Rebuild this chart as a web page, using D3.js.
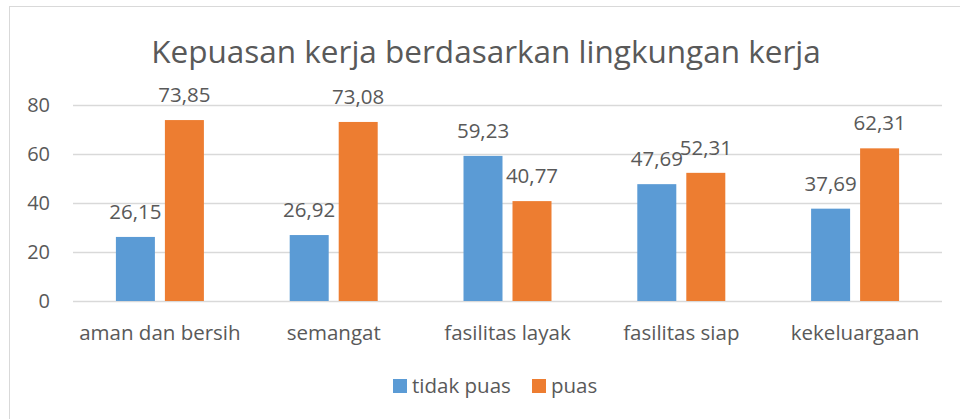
<!DOCTYPE html>
<html>
<head>
<meta charset="utf-8">
<script src="https://cdn.jsdelivr.net/npm/d3@7"></script>
<style>
  html, body { margin: 0; padding: 0; background: #fff; }
  svg { display: block; }
  text { font-family: "Open Sans", "Noto Sans", sans-serif; fill: #595959; }
</style>
</head>
<body>
<svg id="chart" width="960" height="419"></svg>
<script>
const title = "Kepuasan kerja berdasarkan lingkungan kerja";
const categories = ["aman dan bersih", "semangat", "fasilitas layak", "fasilitas siap", "kekeluargaan"];
const seriesNames = ["tidak puas", "puas"];
const tidakPuas = [26.15, 26.92, 59.23, 47.69, 37.69];
const puas = [73.85, 73.08, 40.77, 52.31, 62.31];
const yTicks = [0, 20, 40, 60, 80];
const colors = ["#5B9BD5", "#ED7D31"];

const svg = d3.select("#chart");
const plot = { left: 73, right: 942, top: 105, bottom: 301 };

// chart border
svg.append("rect").attr("x", 9.5).attr("y", 6.5).attr("width", 1000).attr("height", 1000)
  .attr("fill", "none").attr("stroke", "#D9D9D9").attr("stroke-width", 1);

const x = d3.scaleBand().domain(categories).range([plot.left, plot.right]).paddingInner(0).paddingOuter(0);
const y = d3.scaleLinear().domain([0, 80]).range([plot.bottom, plot.top]);
const barW = 39, gap = 10;

// gridlines
svg.append("g").selectAll("line").data(yTicks).join("line")
  .attr("x1", plot.left).attr("x2", plot.right)
  .attr("y1", d => Math.round(y(d)) + 0.5).attr("y2", d => Math.round(y(d)) + 0.5)
  .attr("stroke", "#D9D9D9").attr("stroke-width", 1.5);

// y axis labels
const yAxis = d3.axisLeft(y).tickValues(yTicks).tickSize(0).tickPadding(0);
const yg = svg.append("g").attr("transform", `translate(50,0)`).call(yAxis);
yg.select(".domain").remove();
yg.selectAll("text").attr("font-size", 20).attr("fill", "#595959").style("font-family", "'Open Sans'");

// x axis labels
const xAxis = d3.axisBottom(x).tickSize(0).tickPadding(0);
const xg = svg.append("g").attr("transform", `translate(0,333)`).call(xAxis);
xg.select(".domain").remove();
xg.selectAll("text").attr("font-size", 20.5).attr("dy", "0.35em").attr("fill", "#595959").style("font-family", "'Open Sans'");

const data = categories.map((c, i) => ({ cat: c, vals: [tidakPuas[i], puas[i]] }));
const fmt = v => d3.format(".2f")(v).replace(".", ",");
const groupW = barW * 2 + gap;

const groups = svg.append("g").selectAll("g").data(data).join("g")
  .attr("transform", d => `translate(${x(d.cat) + x.bandwidth() / 2 - groupW / 2},0)`);

groups.selectAll("rect").data(d => d.vals.map((v, j) => ({ v, j }))).join("rect")
  .attr("x", d => d.j * (barW + gap))
  .attr("width", barW)
  .attr("y", d => y(d.v))
  .attr("height", d => y(0) - y(d.v))
  .attr("fill", d => colors[d.j]);

groups.selectAll("text").data(d => d.vals.map((v, j) => ({ v, j }))).join("text")
  .attr("x", d => d.j * (barW + gap) + barW / 2)
  .attr("y", d => y(d.v) - 18)
  .attr("text-anchor", "middle")
  .attr("font-size", 20.5)
  .text(d => fmt(d.v));

// title
svg.append("text").attr("x", 486).attr("y", 63).attr("text-anchor", "middle")
  .attr("font-size", 31.5).text(title);

// legend
const legend = svg.append("g");
const legX = [393, 532];
seriesNames.forEach((s, i) => {
  legend.append("rect").attr("x", legX[i]).attr("y", 379).attr("width", 14).attr("height", 14).attr("fill", colors[i]);
  legend.append("text").attr("x", legX[i] + 19).attr("y", 386).attr("dy", "0.35em")
    .attr("font-size", 20.5).text(s);
});
</script>
</body>
</html>
